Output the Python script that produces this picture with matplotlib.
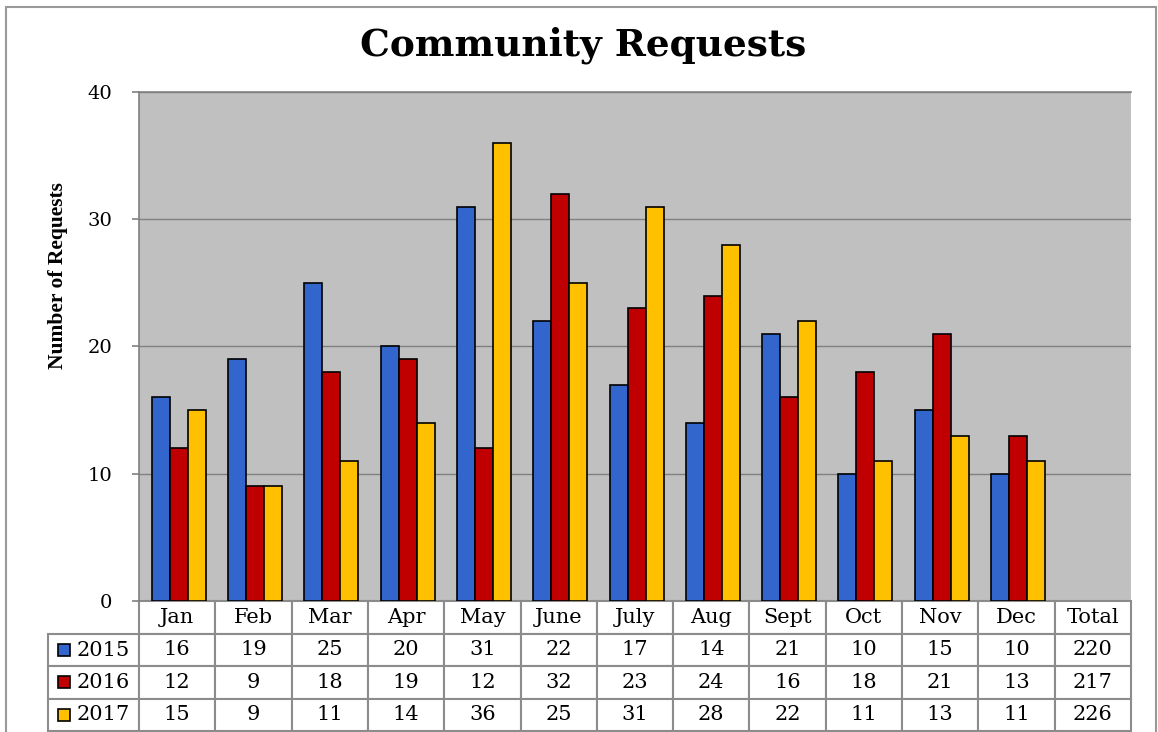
import numpy as np
import matplotlib.pyplot as plt
from matplotlib.patches import Rectangle

# Data
months = ['Jan', 'Feb', 'Mar', 'Apr', 'May', 'June', 'July', 'Aug', 'Sept', 'Oct', 'Nov', 'Dec']
years = ['2015', '2016', '2017']
req_2015 = [16, 19, 25, 20, 31, 22, 17, 14, 21, 10, 15, 10]
req_2016 = [12, 9, 18, 19, 12, 32, 23, 24, 16, 18, 21, 13]
req_2017 = [15, 9, 11, 14, 36, 25, 31, 28, 22, 11, 13, 11]
series = [req_2015, req_2016, req_2017]
colors = ['#3366CC', '#C00000', '#FFC000']

W, H = 1158, 732
fig = plt.figure(figsize=(W / 100, H / 100), dpi=100)

# outer frame
fig.add_artist(Rectangle((6 / W, -0.02), 1150 / W, 1 - 7 / H + 0.02,
                         transform=fig.transFigure, fill=False,
                         edgecolor='#999999', lw=1.5))

# plot area
px0, px1, py0, py1 = 139, 1131, 92, 601
ax = fig.add_axes([px0 / W, 1 - py1 / H, (px1 - px0) / W, (py1 - py0) / H])
ax.set_facecolor('#C0C0C0')
ncat = len(months) + 1
ax.set_xlim(-0.5, ncat - 0.5)
ax.set_ylim(0, 40)

bw = 0.236
x = np.arange(len(months))
for i, vals in enumerate(series):
    ax.bar(x + (i - 1) * bw + 0.02, vals, width=bw, color=colors[i],
           edgecolor='black', linewidth=1.2, zorder=3)

ax.set_yticks([0, 10, 20, 30, 40])
ax.yaxis.grid(True, color='#808080', lw=1, zorder=1)
ax.set_xticks([])
for s in ['right', 'bottom']:
    ax.spines[s].set_visible(False)
ax.spines['left'].set_color('#808080')
ax.spines['top'].set_color('#808080')
ax.spines['left'].set_linewidth(1.2)
ax.spines['top'].set_linewidth(1.2)
ax.tick_params(axis='y', length=5, width=1.2, color='#808080', pad=14,
               labelsize=14)
for lbl in ax.get_yticklabels():
    lbl.set_fontfamily('DejaVu Serif')

# data table (first column holds the year labels, drawn separately)
totals = [sum(s) for s in series]
cell_text = [[''] + [str(v) for v in s] + [str(t)] for s, t in zip(series, totals)]
col_labels = [''] + months + ['Total']
span = px1 - px0
lab_w = 91
tbl_h = 130
col_w = span / ncat
tbl = ax.table(cellText=cell_text, colLabels=col_labels,
               colWidths=[lab_w] + [col_w] * ncat, cellLoc='center',
               bbox=[-lab_w / span, -tbl_h / (py1 - py0), 1 + lab_w / span,
                     tbl_h / (py1 - py0)])
tbl.auto_set_font_size(False)
for (r, c), cell in tbl.get_celld().items():
    cell.set_edgecolor('#8C8C8C')
    cell.set_linewidth(1.5)
    cell.get_text().set_fontsize(15)
    cell.get_text().set_fontfamily('DejaVu Serif')
    if r == 0 and c == 0:
        cell.visible_edges = ''
        cell.set_facecolor('none')

# row labels with colour keys
row_top = py1 + 33
row_h = 32.3
for i, yr in enumerate(years):
    yc = row_top + row_h * (i + 0.5)
    fig.add_artist(Rectangle((58 / W, 1 - (yc + 6) / H), 12 / W, 12 / H,
                             transform=fig.transFigure, facecolor=colors[i],
                             edgecolor='black', lw=1.2))
    fig.text(77 / W, 1 - yc / H, yr, fontsize=15, family='DejaVu Serif',
             ha='left', va='center')

fig.text(583 / W, 1 - 45 / H, 'Community Requests', fontsize=27,
         fontweight='bold', family='DejaVu Serif', ha='center', va='center')
fig.text(58 / W, 1 - 276 / H, 'Number of Requests', fontsize=15.5,
         fontweight='bold', family='Liberation Serif', rotation=90,
         ha='center', va='center')

fig.savefig('out.png', dpi=100)
